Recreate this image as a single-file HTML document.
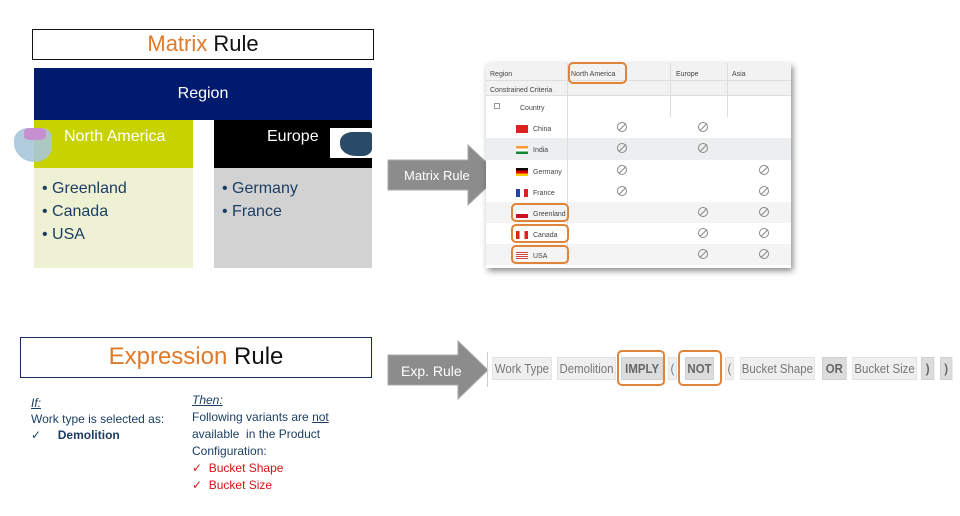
<!DOCTYPE html>
<html><head><meta charset="utf-8"><style>
*{margin:0;padding:0;box-sizing:border-box}
body{width:960px;height:516px;background:#fff;position:relative;overflow:hidden;font-family:"Liberation Sans",Arial,sans-serif}
.a{position:absolute}
.t{position:absolute;white-space:nowrap}
.or{color:#e07a2a}
.tok{position:absolute;top:357px;height:23px;background:#efefef;border:1px solid #e2e2e2;color:#777;font-size:13px;line-height:21px;text-align:center;transform:scaleX(0.88);transform-origin:left}
.tokd{background:#dcdcdc;border-color:#d0d0d0;font-weight:bold;color:#666}
.ob{position:absolute;border:2px solid #e0843a;border-radius:5px}
.cell{position:absolute;font-size:7px;color:#444;white-space:nowrap;margin-top:3px}
.ban{position:absolute;width:10px;height:10px;border:1px solid #888;border-radius:50%;font-size:0}
.ban:after{content:"";position:absolute;left:4px;top:-1px;width:1px;height:10px;background:#888;transform:rotate(45deg)}
.fl{position:absolute;width:12px;height:8px;margin-top:1px}
</style></head><body>

<div class="a" style="left:32px;top:29px;width:342px;height:31px;border:1.5px solid #111"></div>
<div class="t" style="left:32px;top:31px;width:342px;text-align:center;font-size:22px;color:#111"><span class="or">Matrix</span> Rule</div>

<div class="a" style="left:34px;top:68px;width:338px;height:52px;background:#001a6e"></div>
<div class="t" style="left:34px;top:85px;width:338px;text-align:center;color:#fff;font-size:16px">Region</div>
<div class="a" style="left:34px;top:120px;width:159px;height:48px;background:#c8d200"></div>
<div class="t" style="left:64px;top:128px;color:#fff;font-size:16px">North America</div>
<div class="a" style="left:14px;top:128px;width:38px;height:34px;background:#a9c7d8;border-radius:40% 30% 50% 60%;opacity:.9"></div>
<div class="a" style="left:24px;top:128px;width:22px;height:12px;background:#c68fd0;border-radius:30%"></div>
<div class="a" style="left:34px;top:168px;width:159px;height:100px;background:#eef1d3"></div>
<div class="t" style="left:42px;top:177px;color:#1c3e64;font-size:16px;line-height:23px">• Greenland<br>• Canada<br>• USA</div>

<div class="a" style="left:214px;top:120px;width:158px;height:48px;background:#000"></div>
<div class="t" style="left:267px;top:128px;color:#fff;font-size:16px">Europe</div>
<div class="a" style="left:330px;top:128px;width:42px;height:30px;background:#fff"></div>
<div class="a" style="left:340px;top:132px;width:32px;height:24px;background:#2a4a6a;border-radius:40% 10% 30% 50%"></div>
<div class="a" style="left:214px;top:168px;width:158px;height:100px;background:#d2d2d2"></div>
<div class="t" style="left:222px;top:177px;color:#1c3e64;font-size:16px;line-height:23px">• Germany<br>• France</div>

<svg class="a" style="left:386px;top:143px" width="116" height="64"><polygon points="2,17 82,17 82,2 114,32 82,62 82,47 2,47" fill="#8c8c8c" stroke="#aaa"/></svg>
<div class="t" style="left:404px;top:168px;color:#fff;font-size:13px">Matrix Rule</div>

<!-- table -->
<div class="a" style="left:486px;top:63px;width:305px;height:205px;background:#fff;box-shadow:2px 3px 6px rgba(0,0,0,.45)"></div>
<div class="a" style="left:486px;top:63px;width:305px;height:33px;background:#f2f2f2;border-bottom:1px solid #ddd"></div>
<div class="a" style="left:486px;top:80px;width:305px;height:1px;background:#ddd"></div>
<div class="a" style="left:486px;top:138px;width:305px;height:22px;background:#eceeef"></div>
<div class="a" style="left:486px;top:202px;width:305px;height:21px;background:#f4f4f4"></div>
<div class="a" style="left:486px;top:244px;width:305px;height:21px;background:#f4f4f4"></div>
<div class="a" style="left:567px;top:63px;width:1px;height:202px;background:#ddd"></div>
<div class="a" style="left:670px;top:63px;width:1px;height:54px;background:#ddd"></div>
<div class="a" style="left:727px;top:63px;width:1px;height:54px;background:#ddd"></div>
<div class="cell" style="left:490px;top:68px">Region</div>
<div class="cell" style="left:571px;top:68px">North America</div>
<div class="cell" style="left:676px;top:68px">Europe</div>
<div class="cell" style="left:732px;top:68px">Asia</div>
<div class="cell" style="left:490px;top:84px">Constrained Criteria</div>
<div class="a" style="left:494px;top:103px;width:6px;height:6px;border:1px solid #999"></div>
<div class="cell" style="left:520px;top:102px">Country</div>
<div class="fl" style="left:516px;top:124px;background:#d22"></div><div class="cell" style="left:533px;top:123px">China</div>
<div class="fl" style="left:516px;top:145px;background:linear-gradient(#f93 33%,#fff 33% 66%,#183 66%)"></div><div class="cell" style="left:533px;top:144px">India</div>
<div class="fl" style="left:516px;top:167px;background:linear-gradient(#000 33%,#d00 33% 66%,#fc0 66%)"></div><div class="cell" style="left:533px;top:166px">Germany</div>
<div class="fl" style="left:516px;top:188px;background:linear-gradient(90deg,#24a 33%,#fff 33% 66%,#d22 66%)"></div><div class="cell" style="left:533px;top:187px">France</div>
<div class="fl" style="left:516px;top:209px;background:linear-gradient(#fff 50%,#c12 50%)"></div><div class="cell" style="left:533px;top:208px">Greenland</div>
<div class="fl" style="left:516px;top:230px;background:linear-gradient(90deg,#d22 30%,#fff 30% 70%,#d22 70%)"></div><div class="cell" style="left:533px;top:229px">Canada</div>
<div class="fl" style="left:516px;top:251px;background:repeating-linear-gradient(#c44 0 1px,#fff 1px 2px)"></div><div class="cell" style="left:533px;top:250px">USA</div>
<div class="ban" style="left:617px;top:122px"></div><div class="ban" style="left:698px;top:122px"></div>
<div class="ban" style="left:617px;top:143px"></div><div class="ban" style="left:698px;top:143px"></div>
<div class="ban" style="left:617px;top:165px"></div><div class="ban" style="left:759px;top:165px"></div>
<div class="ban" style="left:617px;top:186px"></div><div class="ban" style="left:759px;top:186px"></div>
<div class="ban" style="left:698px;top:207px"></div><div class="ban" style="left:759px;top:207px"></div>
<div class="ban" style="left:698px;top:228px"></div><div class="ban" style="left:759px;top:228px"></div>
<div class="ban" style="left:698px;top:249px"></div><div class="ban" style="left:759px;top:249px"></div>
<div class="ob" style="left:568px;top:62px;width:59px;height:22px"></div>
<div class="ob" style="left:511px;top:203px;width:58px;height:19px"></div>
<div class="ob" style="left:511px;top:224px;width:58px;height:19px"></div>
<div class="ob" style="left:511px;top:245px;width:58px;height:19px"></div>

<!-- Expression -->
<div class="a" style="left:20px;top:337px;width:352px;height:41px;border:1.5px solid #1a2a60"></div>
<div class="t" style="left:20px;top:343px;width:352px;text-align:center;font-size:24px;color:#111"><span class="or">Expression</span> Rule</div>
<div class="t" style="left:31px;top:395px;font-size:12px;color:#1c3e64;line-height:16px"><i><u>If:</u></i><br>Work type is selected as:<br>✓&nbsp;&nbsp;&nbsp;&nbsp;&nbsp;<b>Demolition</b></div>
<div class="t" style="left:192px;top:392px;font-size:12px;color:#1c3e64;line-height:17px"><i><u>Then:</u></i><br>Following variants are <u>not</u><br>available&nbsp; in the Product<br>Configuration:<br><span style="color:#d11">✓&nbsp; Bucket Shape<br>✓&nbsp; Bucket Size</span></div>

<svg class="a" style="left:386px;top:340px" width="104" height="60"><polygon points="2,15 72,15 72,1 102,30 72,59 72,45 2,45" fill="#8c8c8c" stroke="#aaa"/></svg>
<div class="t" style="left:401px;top:363px;color:#fff;font-size:14px">Exp. Rule</div>
<div class="a" style="left:487px;top:352px;width:1px;height:35px;background:#ccc"></div>

<div class="tok" style="left:492px;width:68px">Work Type</div>
<div class="tok" style="left:557px;width:67px">Demolition</div>
<div class="tok tokd" style="left:621px;width:48px">IMPLY</div>
<div class="tok" style="left:668px;width:10px">(</div>
<div class="tok tokd" style="left:685px;width:33px">NOT</div>
<div class="tok" style="left:725px;width:10px">(</div>
<div class="tok" style="left:740px;width:85px">Bucket Shape</div>
<div class="tok tokd" style="left:822px;width:28px">OR</div>
<div class="tok" style="left:852px;width:74px">Bucket Size</div>
<div class="tok tokd" style="left:921px;width:15px">)</div>
<div class="tok tokd" style="left:940px;width:14px">)</div>
<div class="ob" style="left:617px;top:350px;width:48px;height:36px"></div>
<div class="ob" style="left:678px;top:350px;width:44px;height:36px"></div>
</body></html>
